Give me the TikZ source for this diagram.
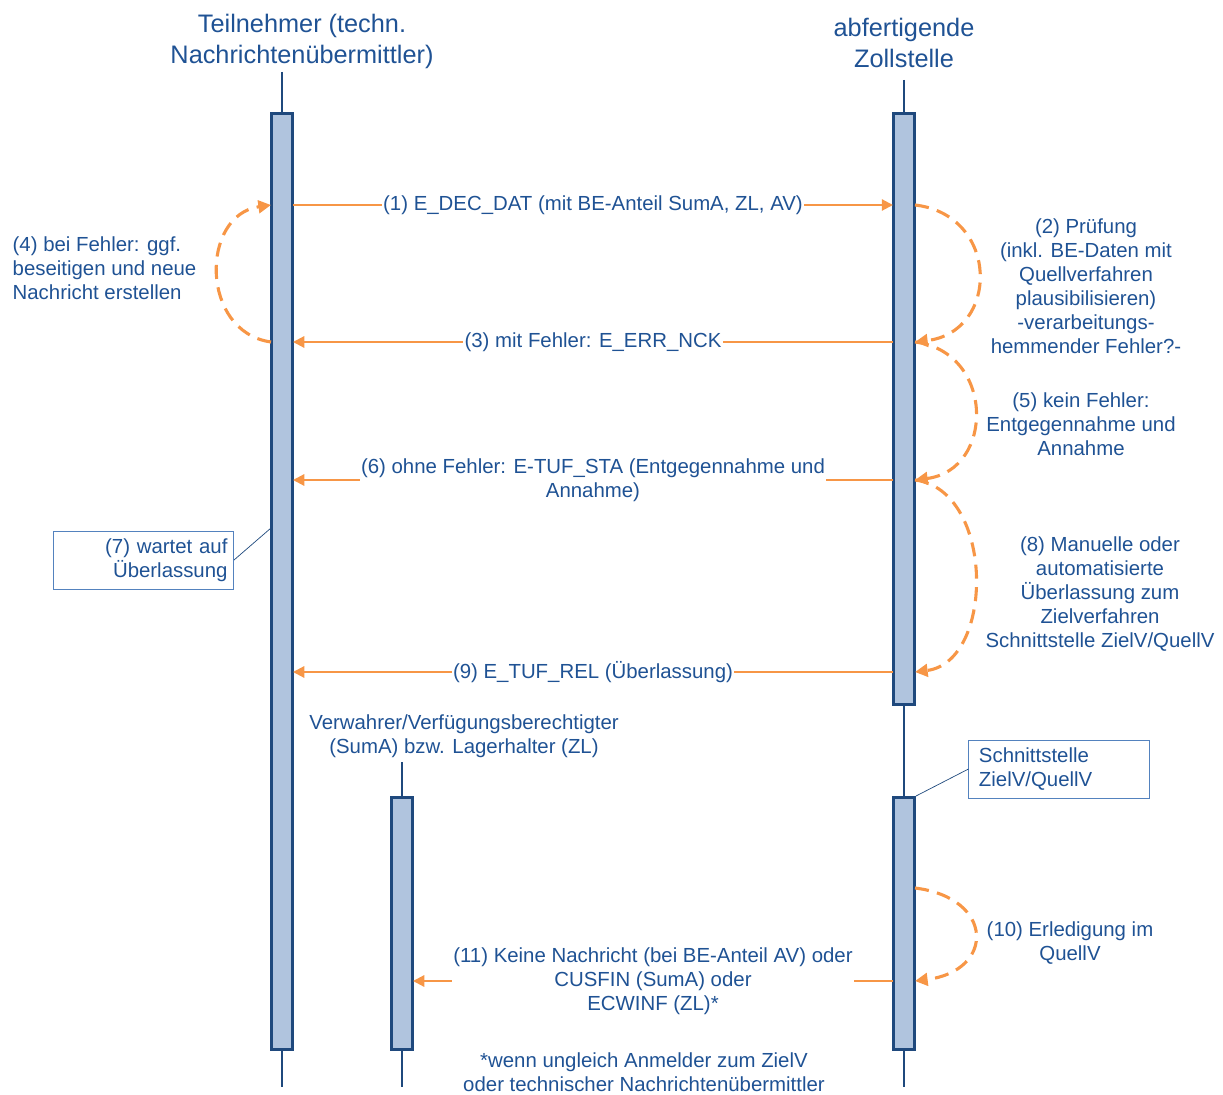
\documentclass[tikz,border=0pt]{standalone}
\usepackage{fontspec}
\setmainfont{Liberation Sans}
\usetikzlibrary{arrows.meta}
\definecolor{zblau}{RGB}{31,82,148}
\definecolor{zrand}{RGB}{31,73,125}
\definecolor{zbalken}{RGB}{176,196,222}
\definecolor{zkasten}{RGB}{84,130,190}
\definecolor{zorange}{RGB}{247,150,70}
\tikzset{
  txt/.style={text=zblau, font=\fontsize{14.5}{17}\selectfont, align=center, inner sep=1pt},
  titel/.style={text=zblau, font=\fontsize{18}{22}\selectfont, align=center, inner sep=0pt},
  lebenslinie/.style={draw=zrand, line width=2pt},
  balken/.style={draw=zrand, fill=zbalken, line width=2pt, minimum width=0.525cm, inner sep=0pt},
  nachricht/.style={draw=zorange, line width=1.5pt, -{Triangle[length=8pt,width=8pt]}},
  schleife/.style={draw=zorange, line width=2.2pt, dash pattern=on 10pt off 6pt, -{Triangle[length=9pt,width=9pt]}},
  kasten/.style={draw=zkasten, line width=0.7pt, text=zblau, font=\fontsize{14.5}{17}\selectfont, minimum width=4.5cm, minimum height=1.45cm, inner sep=0pt},
  hinweis/.style={draw=zrand, line width=0.5pt}
}
\begin{document}
\begin{tikzpicture}[x=0.025cm, y=-0.025cm]
    \useasboundingbox (0,0) rectangle (1223,1095);
    % TITEL
    \node[titel] (tn) at (302,41) {Teilnehmer (techn.\\Nachrichtenübermittler)};
    \node[titel] (zs) at (904,43) {abfertigende\\Zollstelle};
    \node[txt] (vw) at (464,736) {Verwahrer/Verfügungsberechtigter\\(SumA) bzw. Lagerhalter (ZL)};
    % LEBENSLINIEN
    \draw[lebenslinie] (282,72) -- (282,1087);
    \draw[lebenslinie] (904,80) -- (904,1087);
    \draw[lebenslinie] (402,762) -- (402,1087);
    \node[balken, minimum height=23.375cm] (tnB) at (282,581.5) {};
    \node[balken, minimum height=14.775cm] (zsB) at (904,409) {};
    \node[balken, minimum height=6.3cm] (zsC) at (904,923.5) {};
    \node[balken, minimum height=6.3cm] (vwB) at (402,923.5) {};
    % PUNKTE
    \coordinate (A1) at (293,205); \coordinate (B1) at (893,205); \coordinate (C1) at (915,205);
    \coordinate (A3) at (293,342); \coordinate (B3) at (893,342); \coordinate (C3) at (915,342);
    \coordinate (A6) at (293,480); \coordinate (B6) at (893,480); \coordinate (C6) at (915,480);
    \coordinate (A9) at (293,672); \coordinate (B9) at (893,672); \coordinate (C9) at (915,672);
    \coordinate (L1) at (271,205); \coordinate (L3) at (271,342);
    \coordinate (A11) at (413,981); \coordinate (B11) at (893,981);
    \coordinate (C10) at (915,888); \coordinate (C11) at (915,981);
    % NACHRICHTEN
    \draw[nachricht] (A1) -- node[txt, fill=white] {(1) E\_DEC\_DAT (mit BE-Anteil SumA, ZL, AV)} (B1);
    \draw[nachricht] (B3) -- node[txt, fill=white] {(3) mit Fehler: E\_ERR\_NCK} (A3);
    \draw[nachricht] (B6) -- node[txt, fill=white] {(6) ohne Fehler: E-TUF\_STA (Entgegennahme und\\Annahme)} (A6);
    \draw[nachricht] (B9) -- node[txt, fill=white] {(9) E\_TUF\_REL (Überlassung)} (A9);
    \draw[nachricht] (B11) -- node[txt, fill=white] {(11) Keine Nachricht (bei BE-Anteil AV) oder\\CUSFIN (SumA) oder\\ECWINF (ZL)*} (A11);
    % SCHLEIFEN
    \draw[schleife] (C1) .. controls (1000,215) and (1000,332) .. (C3);
    \draw[schleife] (C3) .. controls (995,352) and (995,470) .. (C6);
    \draw[schleife] (C6) .. controls (995,490) and (995,662) .. (C9);
    \draw[schleife] (C10) .. controls (995,898) and (995,971) .. (C11);
    \draw[schleife] (L3) .. controls (200,332) and (200,215) .. (L1);
    \node[txt] (s2) at (1086,286) {(2) Prüfung\\(inkl. BE-Daten mit\\Quellverfahren\\plausibilisieren)\\-verarbeitungs-\\hemmender Fehler?-};
    \node[txt] (s5) at (1081,424) {(5) kein Fehler:\\Entgegennahme und\\Annahme};
    \node[txt] (s8) at (1100,594) {(8) Manuelle oder\\automatisierte\\Überlassung zum\\Zielverfahren\\Schnittstelle ZielV/QuellV};
    \node[txt] (s10) at (1070,943) {(10) Erledigung im\\QuellV};
    \node[txt, align=left, anchor=west] (s4) at (11,268) {(4) bei Fehler: ggf.\\beseitigen und neue\\Nachricht erstellen};
    % HINWEISE
    \node[kasten, text width=4.2cm, align=right] (k7) at (143.5,560) {(7) wartet auf\\Überlassung};
    \coordinate (H7) at (271,528);
    \draw[hinweis] (k7.east) -- (H7);
    \node[kasten, text width=4.0cm, align=left] (kS) at (1059,769) {Schnittstelle\\ZielV/QuellV};
    \draw[hinweis] (kS.west) -- (zsC.north east);
    \node[txt] (fn) at (644,1072) {*wenn ungleich Anmelder zum ZielV\\oder technischer Nachrichtenübermittler};
\end{tikzpicture}
\end{document}
